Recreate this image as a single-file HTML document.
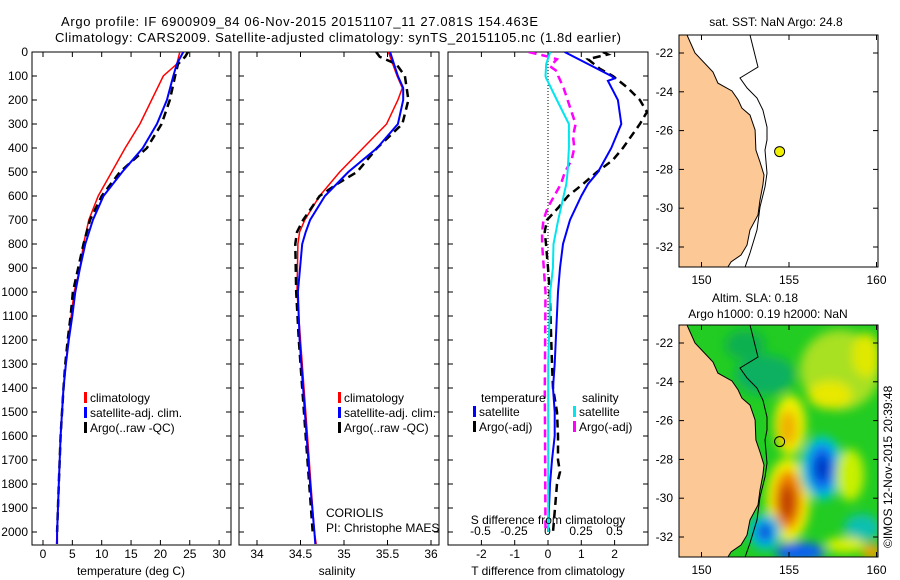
<!DOCTYPE html>
<html><head><meta charset="utf-8"><title>Argo profile</title>
<style>
html,body{margin:0;padding:0;background:#fff;}
svg{display:block;font-family:"Liberation Sans",Arial,sans-serif;}
text{fill:#000;}
</style></head>
<body>
<svg id="fig" width="900" height="580" viewBox="0 0 900 580" xmlns="http://www.w3.org/2000/svg">
<defs>
<clipPath id="c1"><rect x="32" y="52" width="199" height="493"/></clipPath>
<clipPath id="c2"><rect x="239" y="52" width="200" height="493"/></clipPath>
<clipPath id="c3"><rect x="448" y="52" width="200" height="493"/></clipPath>
<clipPath id="cm1"><rect x="679" y="35" width="199" height="232"/></clipPath>
<clipPath id="cm2"><rect x="679" y="325" width="199" height="232"/></clipPath>
<filter id="blur" x="-20%" y="-20%" width="140%" height="140%"><feGaussianBlur stdDeviation="5"/></filter>
</defs>
<text x="61" y="26" font-size="13" textLength="477">Argo profile: IF 6900909_84 06-Nov-2015 20151107_11 27.081S 154.463E</text>
<text x="55" y="42" font-size="13" textLength="566">Climatology: CARS2009. Satellite-adjusted climatology: synTS_20151105.nc (1.8d earlier)</text>
<g id="g1"></g>
<g id="g2"></g>
<g id="g3"></g>
<g id="m1"></g>
<g id="m2"></g>
<text x="0" y="0" font-size="12" transform="translate(892,548) rotate(-90)">©IMOS 12-Nov-2015 20:39:48</text>
</svg>
<script>
// ---------- data ----------
const depthT = [0,50,100,200,300,400,500,600,700,800,900,1000,1100,1200,1300,1400,1600,1800,2000,2050];
const tempClim = [23.3,22.8,20.5,18.5,16.5,14.0,11.7,9.4,7.8,6.9,6.3,5.3,4.8,4.3,3.9,3.5,3.0,2.7,2.4,2.3];
const tempSat  = [23.9,22.8,22.2,21.1,19.4,17.0,13.5,10.3,8.5,7.2,6.3,5.5,5.0,4.4,3.9,3.5,3.0,2.7,2.4,2.4];
const depthArgo = [0,20,50,100,200,300,400,500,600,700,800,900,1000,1100,1200,1300,1400,1600,1800,2000];
const tempArgo = [24.7,24.2,23.0,22.5,21.6,20.2,17.7,13.1,10.0,8.0,6.9,6.0,5.1,4.7,4.2,3.8,3.5,3.0,2.7,2.4];
const depthS = [0,100,150,200,300,400,500,600,700,750,800,1000,1200,1400,1600,1800,2000,2050];
const salClim = [35.51,35.61,35.67,35.62,35.49,35.22,34.95,34.72,34.55,34.49,34.47,34.46,34.50,34.54,34.58,34.62,34.66,34.68];
const salSat  = [35.53,35.62,35.68,35.68,35.62,35.38,35.05,34.78,34.61,34.56,34.52,34.47,34.49,34.53,34.57,34.61,34.66,34.67];
const depthSA = [0,20,50,100,200,300,400,500,550,600,700,750,800,1000,1200,1400,1600,1800,2000];
const salArgo = [35.37,35.41,35.60,35.70,35.74,35.67,35.38,35.15,34.92,34.72,34.53,34.46,34.44,34.45,34.48,34.52,34.56,34.60,34.64];
const depthD = [0,50,100,110,120,200,300,400,500,550,600,700,800,900,1000,1300,1400,1500,1600,1700,1800,2000];
const dTsat = [0.5,1.2,1.9,2.0,1.8,2.1,2.2,1.9,1.5,1.2,1.0,0.66,0.45,0.36,0.3,0.2,0.15,0.2,0.2,0.12,0.06,0.0];
const dSsat = [0.02,-0.01,-0.015,-0.01,0.0,0.07,0.16,0.16,0.15,0.14,0.12,0.08,0.045,0.04,0.02,0.005,0.005,0.005,0.005,0.005,0.005,0.005];
const depthDA = [0,10,30,70,100,150,200,250,300,400,450,500,550,600,650,700,750,800,900,1000,1300,1400,1500,1600,1700,1750,1800,1900,2000];
const dTargo = [1.65,1.8,1.2,1.56,1.95,2.4,2.76,2.97,2.76,2.25,1.95,1.47,1.05,0.6,0.3,-0.03,-0.1,-0.06,0.0,0.05,0.12,0.15,0.27,0.3,0.3,0.36,0.27,0.21,0.15];
const depthSD = [0,20,30,60,80,100,150,200,250,300,350,400,450,500,550,600,650,700,750,800,1000,1400,2000];
const dSargo = [-0.14,0.01,0.07,0.02,0.07,0.08,0.12,0.15,0.18,0.21,0.19,0.2,0.18,0.13,0.1,0.05,0.0,-0.03,-0.04,-0.04,-0.015,-0.02,-0.015];
const depthTicks = [0,100,200,300,400,500,600,700,800,900,1000,1100,1200,1300,1400,1500,1600,1700,1800,1900,2000];
const tempTicks = [0,5,10,15,20,25,30];
const salTicks = [34,34.5,35,35.5,36];
const dTTicks = [-2,-1,0,1,2];
const dSTicks = [-0.5,-0.25,0,0.25,0.5];
const dSTickLabels = ["-0.5","-0.25","0","0.25","0.5"];
const latTicks = [-22,-24,-26,-28,-30,-32];
const lonTicks = [150,155,160];
const argoLon = 154.463, argoLat = -27.081;
const coastLon = [149.17,149.63,150.66,150.94,151.74,152.09,152.31,152.77,153.06,153.11,153.34,153.57,153.51,153.34,153.23,152.77,152.6,152.26,151.69,151.51];
const coastLat = [-21.07,-22,-22.98,-23.55,-23.96,-24.42,-24.84,-25.2,-25.97,-27.0,-27.62,-28.29,-28.8,-29.58,-30.35,-31.12,-31.9,-32.41,-32.77,-33.03];
const isoLon = [152.77,153.17,153.23,152.2,152.6,153.17,153.51,153.74,153.74,153.63,153.74,153.63,153.34,153.17,152.77,152.49];
const isoLat = [-21.07,-22.52,-22.72,-23.29,-23.8,-24.32,-24.94,-25.82,-26.48,-27.0,-28.19,-28.9,-29.94,-31.12,-32.31,-33.03];

// ---------- scales ----------
const yD = d => 52 + d*0.24;
const xT = t => 43 + t*5.87;
const xS = s => 257 + (s-34)*87;
const xdT = d => 548 + d*33.3;
const xdS = d => 547.5 + d*134;
const mx = lon => 701.5 + (lon-150)*17.5;
const my = (lat,off) => off + 53 + (-22-lat)*19.4;

const NS = "http://www.w3.org/2000/svg";
function mk(parent, tag, attrs, txt){
  const e = document.createElementNS(NS, tag);
  for (const k in attrs) e.setAttribute(k, attrs[k]);
  if (txt !== undefined) e.textContent = txt;
  parent.appendChild(e);
  return e;
}
function line(parent, xs, ys, xf, color, w, dash, clip, name){
  const pts = xs.map((v,i)=> xf(v).toFixed(1)+","+yD(ys[i]).toFixed(1)).join(" ");
  const p = mk(parent,"polyline",{points:pts,fill:"none",stroke:color,"stroke-width":w,"clip-path":"url(#"+clip+")"});
  if (dash) p.setAttribute("stroke-dasharray", dash);
  
  
}
function frame(g, x0, x1){
  const r = mk(g,"rect",{x:x0,y:52,width:x1-x0,height:493,fill:"none",stroke:"#000","stroke-width":1});
  
  
  depthTicks.forEach(d=>{
    mk(g,"line",{x1:x0,x2:x0+5,y1:yD(d),y2:yD(d),stroke:"#000"});
    mk(g,"line",{x1:x1-5,x2:x1,y1:yD(d),y2:yD(d),stroke:"#000"});
  });
}
function xticks(g, vals, f, labels, y){
  vals.forEach((v,i)=>{
    const x = f(v);
    mk(g,"line",{x1:x,x2:x,y1:52,y2:57,stroke:"#000"});
    mk(g,"line",{x1:x,x2:x,y1:540,y2:545,stroke:"#000"});
    const t = mk(g,"text",{x:x,y:y,"font-size":12,"text-anchor":"middle"}, labels[i]);
    
    
  });
}
function legend(g, x, y, items){
  items.forEach((it,i)=>{
    mk(g,"rect",{x:x,y:y+i*15-10,width:3,height:11,fill:it[0]});
    const t = mk(g,"text",{x:x+6,y:y+i*15,"font-size":12}, it[1]);
    
    
  });
}

// ---------- panel 1: temperature ----------
const g1 = document.getElementById("g1");
frame(g1, 32, 231);
depthTicks.forEach(d=>{
  const t = mk(g1,"text",{x:28,y:yD(d)+4,"font-size":12,"text-anchor":"end"}, String(d));
  
  
});
xticks(g1, tempTicks, xT, tempTicks.map(String), 558);
const xl1 = mk(g1,"text",{x:131,y:575,"font-size":12,"text-anchor":"middle"},"temperature (deg C)");


line(g1, tempClim, depthT, xT, "#ff0000", 1.5, null, "c1", "temp-climatology-line");
line(g1, tempArgo, depthArgo, xT, "#000", 2.5, "8,5", "c1", "temp-argo-line");
line(g1, tempSat, depthT, xT, "#0000ff", 2, null, "c1", "temp-satellite-line");
legend(g1, 84, 402, [["#ff0000","climatology"],["#0000ff","satellite-adj. clim."],["#000","Argo(..raw -QC)"]]);

// ---------- panel 2: salinity ----------
const g2 = document.getElementById("g2");
frame(g2, 239, 439);
xticks(g2, salTicks, xS, salTicks.map(String), 558);
const xl2 = mk(g2,"text",{x:337,y:575,"font-size":12,"text-anchor":"middle"},"salinity");


line(g2, salClim, depthS, xS, "#ff0000", 1.5, null, "c2", "sal-climatology-line");
line(g2, salArgo, depthSA, xS, "#000", 2.5, "8,5", "c2", "sal-argo-line");
line(g2, salSat, depthS, xS, "#0000ff", 2, null, "c2", "sal-satellite-line");
legend(g2, 338, 402, [["#ff0000","climatology"],["#0000ff","satellite-adj. clim."],["#000","Argo(..raw -QC)"]]);
const c1 = mk(g2,"text",{x:326,y:517,"font-size":12},"CORIOLIS");


const c2 = mk(g2,"text",{x:326,y:532,"font-size":12},"PI: Christophe MAES");



// ---------- panel 3: differences ----------
const g3 = document.getElementById("g3");
frame(g3, 448, 648);
xticks(g3, dTTicks, xdT, dTTicks.map(String), 558);
mk(g3,"line",{x1:xdT(0),x2:xdT(0),y1:52,y2:532,stroke:"#000","stroke-dasharray":"1,2"});
dSTicks.forEach((v,i)=>{
  const t = mk(g3,"text",{x:xdS(v),y:535,"font-size":12,"text-anchor":"middle"}, dSTickLabels[i]);
  
  
});
line(g3, dSargo, depthSD, xdS, "#ff00ff", 2.5, "8,5", "c3", "s-diff-argo-line");
line(g3, dTargo, depthDA, xdT, "#000", 2.5, "8,5", "c3", "t-diff-argo-line");
line(g3, dTsat, depthD, xdT, "#0000ff", 2, null, "c3", "t-diff-satellite-line");
line(g3, dSsat, depthD, xdS, "#00e5ee", 2, null, "c3", "s-diff-satellite-line");
const sdt = mk(g3,"text",{x:548,y:524,"font-size":12,"text-anchor":"middle"},"S difference from climatology");


const tdt = mk(g3,"text",{x:548,y:575,"font-size":12,"text-anchor":"middle"},"T difference from climatology");


const lt = mk(g3,"text",{x:481,y:402,"font-size":12},"temperature");


const ls = mk(g3,"text",{x:582,y:402,"font-size":12},"salinity");


legend(g3, 473, 416, [["#0000ff","satellite"],["#000","Argo(-adj)"]]);
legend(g3, 573, 416, [["#00e5ee","satellite"],["#ff00ff","Argo(-adj)"]]);

// ---------- maps ----------
function drawMap(g, off, clip, sla){
  const top = 35+off;
  if (sla){
    const bg = mk(g,"g",{"clip-path":"url(#"+clip+")"});
    mk(bg,"rect",{x:679,y:top,width:199,height:232,fill:"#22cc22"});
    const blobs = bg.appendChild(document.createElementNS(NS,"g"));
    blobs.setAttribute("filter","url(#blur)");
    const B = [
      [765,375,30,20,"#10b060"],[745,345,20,15,"#10b050"],[840,370,40,40,"#a8e020"],[830,395,22,14,"#e8e800"],
      [866,355,14,22,"#e0e800"],[790,425,16,30,"#f0f000"],[788,428,9,18,"#f0b000"],
      [788,500,22,42,"#f0f000"],[788,500,14,30,"#f08000"],[787,502,8,18,"#c04000"],
      [822,468,22,32,"#00c8d0"],[822,468,14,24,"#1070f0"],[822,468,7,13,"#0030c0"],
      [765,532,16,18,"#00c0e0"],[765,532,8,10,"#1050e0"],[800,552,25,10,"#1060f0"],
      [850,475,14,26,"#c8f000"],[862,528,18,14,"#10c0b0"],[872,552,10,8,"#f0a000"],[845,545,20,8,"#d8f000"]
    ];
    B.forEach(b=>{ mk(blobs,"ellipse",{cx:b[0],cy:b[1],rx:b[2],ry:b[3],fill:b[4]}); });
  }
  const gc = mk(g,"g",{"clip-path":"url(#"+clip+")"});
  let pts = coastLon.map((v,i)=>mx(v).toFixed(1)+","+my(coastLat[i],off).toFixed(1)).join(" ");
  pts += " 679,"+(top+232)+" 679,"+top;
  const land = mk(gc,"polygon",{points:pts,fill:"#fcc896",stroke:"#000","stroke-width":1});
  
  
  const ipts = isoLon.map((v,i)=>mx(v).toFixed(1)+","+my(isoLat[i],off).toFixed(1)).join(" ");
  const iso = mk(gc,"polyline",{points:ipts,fill:"none",stroke:"#000","stroke-width":1});
  
  
  const m = mk(gc,"circle",{cx:mx(argoLon),cy:my(argoLat,off),r:5,fill:sla?"none":"#f0f000",stroke:"#000","stroke-width":1});
  
  
  const fr = mk(g,"rect",{x:679,y:top,width:199,height:232,fill:"none",stroke:"#000"});
  
  
  latTicks.forEach(l=>{
    const y = my(l,off);
    mk(g,"line",{x1:679,x2:684,y1:y,y2:y,stroke:"#000"});
    mk(g,"line",{x1:873,x2:878,y1:y,y2:y,stroke:"#000"});
    const t = mk(g,"text",{x:673,y:y+4,"font-size":12,"text-anchor":"end"}, String(l));
    
    
  });
  lonTicks.forEach(l=>{
    const x = mx(l);
    mk(g,"line",{x1:x,x2:x,y1:top,y2:top+5,stroke:"#000"});
    mk(g,"line",{x1:x,x2:x,y1:top+227,y2:top+232,stroke:"#000"});
    const t = mk(g,"text",{x:x,y:top+249,"font-size":12,"text-anchor":"middle"}, String(l));
    
    
  });
}
const m1 = document.getElementById("m1");
drawMap(m1, 0, "cm1", false);
const t1 = mk(m1,"text",{x:776,y:26,"font-size":12,"text-anchor":"middle"},"sat. SST: NaN Argo: 24.8");


const m2 = document.getElementById("m2");
drawMap(m2, 290, "cm2", true);
const t2 = mk(m2,"text",{x:755,y:302,"font-size":12,"text-anchor":"middle"},"Altim. SLA: 0.18");


const t3 = mk(m2,"text",{x:768,y:318,"font-size":12,"text-anchor":"middle"},"Argo h1000: 0.19 h2000: NaN");


</script>
</body></html>
